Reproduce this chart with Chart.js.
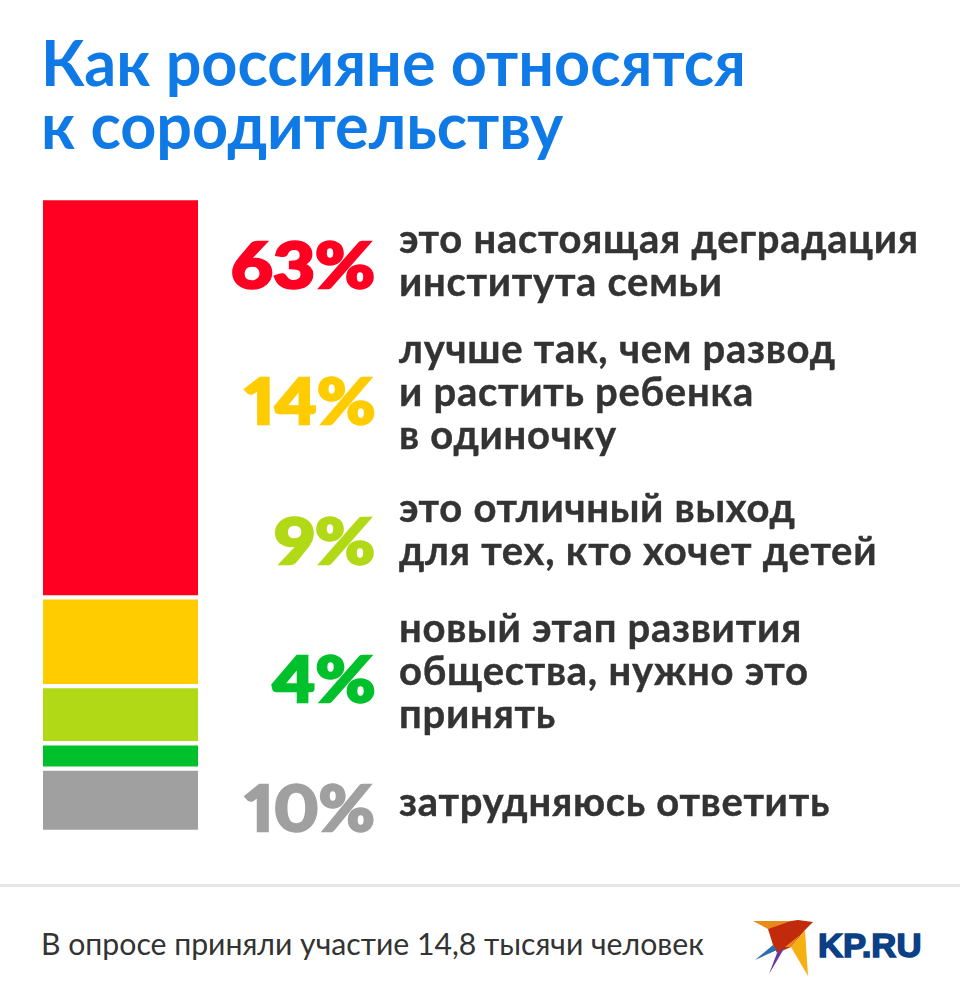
<!DOCTYPE html>
<html lang="ru">
<head>
<meta charset="utf-8">
<script src="https://cdn.jsdelivr.net/npm/chart.js@4"></script>
<style>
  html, body { margin: 0; padding: 0; background: #fff; }
  body { width: 960px; height: 1006px; position: relative; overflow: hidden; font-family: Lato, sans-serif; }
  #title { position: absolute; left: 41px; top: 30px; font: 700 62.9px/63px Lato, sans-serif; color: #0f7ae5; white-space: nowrap; }
  #chartBox { position: absolute; left: 0; top: 0; width: 960px; height: 880px; }
  .pct, .note { position: absolute; white-space: nowrap; }
  .pct { right: 585px; font-weight: 900; font-size: 62px; line-height: 66px; font-variant-numeric: proportional-nums; transform-origin: right center; -webkit-text-stroke: 2.5px currentColor; }
  .note { left: 399px; font-weight: 700; font-size: 40px; line-height: 43px; color: #333; letter-spacing: 0.72px; -webkit-text-stroke: 0.4px #333; }
  #rule { position: absolute; left: 0; top: 884px; width: 960px; height: 3px; background: #e6e6e6; }
  #foot { position: absolute; left: 41px; top: 926px; font-size: 30.2px; line-height: 34px; color: #333; white-space: nowrap; }
  #logoText { position: absolute; left: 818px; top: 925px; font: 900 34px/40px "Liberation Sans", sans-serif; color: #0b3f86; transform: scaleX(1.02); transform-origin: left center; -webkit-text-stroke: 1.5px #0b3f86; white-space: nowrap; }
  #bird { position: absolute; left: 750px; top: 917px; }
</style>
</head>
<body>
<div id="title">Как россияне относятся<br>к сородительству</div>
<div id="chartBox"><canvas id="stack"></canvas></div>
<div id="labels"></div>
<div id="rule"></div>
<div id="foot">В опросе приняли участие 14,8 тысячи человек</div>
<svg id="bird" width="66" height="62" viewBox="0 0 66 62">
  <polygon points="3,4 41,4 30,10 18,12" fill="#e8891c"/>
  <polygon points="18,12 41,4 48,3 63,5 55,13 41,30 27,36 23,28" fill="#c22a0c"/>
  <polygon points="5,43 23,28 27,33" fill="#2a6fb0"/>
  <polygon points="19,57 27,36 35,30" fill="#6a35a8"/>
  <polygon points="41,30 55,13 58,59" fill="#f5b014"/>
  <polygon points="35,30 50,18 41,30" fill="#e8891c"/>
</svg>
<div id="logoText">KP.RU</div>
<script>
const categories = ["это настоящая деградация\nинститута семьи", "лучше так, чем развод\nи растить ребенка\nв одиночку", "это отличный выход\nдля тех, кто хочет детей", "новый этап развития\nобщества, нужно это\nпринять", "затрудняюсь ответить"];
const values = [63, 14, 9, 4, 10];
const colors = ["#ff0022", "#ffcc00", "#b2d916", "#00c02b", "#a0a0a0"];
const pctTops = [231, 367, 507, 645, 774];
const pctStretch = [1.17, 1.14, 1.17, 1.17, 1.09];
const noteTops = [217, 327, 486, 606, 780];

const datasets = values.map((v, i) => ({
  label: categories[i],
  data: [v],
  backgroundColor: colors[i],
  borderColor: "#fff",
  borderWidth: { top: 2.5, bottom: 2.5, left: 0, right: 0 },
  borderSkipped: false,
  barPercentage: 1,
  categoryPercentage: 1,
}));

new Chart(document.getElementById("stack"), {
  type: "bar",
  data: { labels: [""], datasets },
  options: {
    responsive: true,
    maintainAspectRatio: false,
    animation: false,
    layout: { padding: { left: 43, right: 762, top: 198, bottom: 48 } },
    plugins: { legend: { display: false }, tooltip: { enabled: false } },
    scales: {
      x: { stacked: true, display: false },
      y: { stacked: true, display: false, reverse: true, min: 0, max: 100 },
    },
  },
});

const labelsEl = document.getElementById("labels");
values.forEach((v, i) => {
  const p = document.createElement("div");
  p.className = "pct";
  p.style.top = pctTops[i] + "px";
  p.style.color = colors[i];
  p.style.transform = "scaleX(" + pctStretch[i] + ")";
  p.textContent = v + "%";
  labelsEl.appendChild(p);
  const n = document.createElement("div");
  n.className = "note";
  n.style.top = noteTops[i] + "px";
  n.innerHTML = categories[i].replace(/\n/g, "<br>");
  labelsEl.appendChild(n);
});
</script>
</body>
</html>
